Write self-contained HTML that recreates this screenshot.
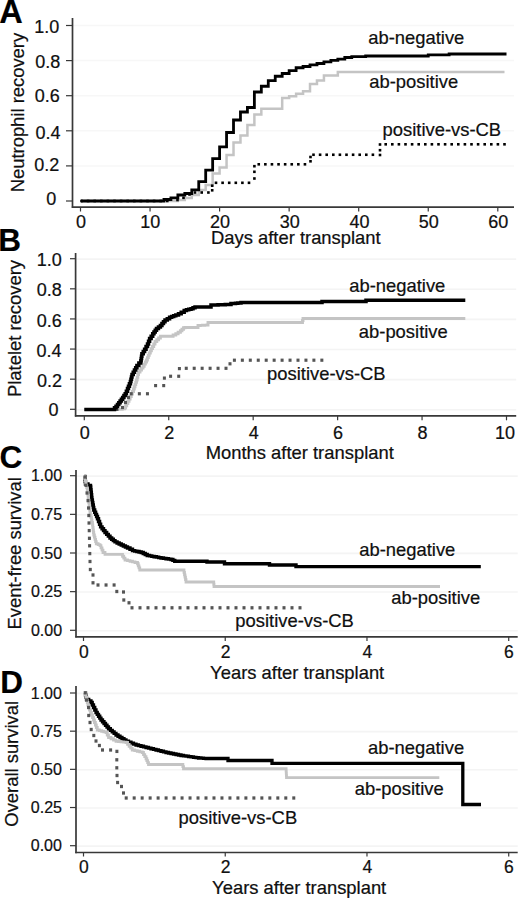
<!DOCTYPE html>
<html><head><meta charset="utf-8"><style>
html,body{margin:0;padding:0;background:#fff;overflow:hidden;}
svg{display:block;}
text{font-family:"Liberation Sans", sans-serif;stroke:#000;stroke-width:0.2px;}
</style></head><body>
<svg width="520" height="901" viewBox="0 0 520 901">
<rect width="520" height="901" fill="#fff"/>
<line x1="73.2" y1="25.5" x2="514" y2="25.5" stroke="#f7f7f7" stroke-width="1.5"/>
<line x1="73.2" y1="60.6" x2="514" y2="60.6" stroke="#f7f7f7" stroke-width="1.5"/>
<line x1="73.2" y1="95.7" x2="514" y2="95.7" stroke="#f7f7f7" stroke-width="1.5"/>
<line x1="73.2" y1="130.8" x2="514" y2="130.8" stroke="#f7f7f7" stroke-width="1.5"/>
<line x1="73.2" y1="165.9" x2="514" y2="165.9" stroke="#f7f7f7" stroke-width="1.5"/>
<line x1="72.5" y1="18" x2="72.5" y2="207.89999999999998" stroke="#383838" stroke-width="1.7"/>
<line x1="71.8" y1="207.2" x2="514" y2="207.2" stroke="#383838" stroke-width="1.7"/>
<line x1="66" y1="25.5" x2="72.5" y2="25.5" stroke="#383838" stroke-width="1.2"/>
<line x1="66" y1="60.6" x2="72.5" y2="60.6" stroke="#383838" stroke-width="1.2"/>
<line x1="66" y1="95.7" x2="72.5" y2="95.7" stroke="#383838" stroke-width="1.2"/>
<line x1="66" y1="130.8" x2="72.5" y2="130.8" stroke="#383838" stroke-width="1.2"/>
<line x1="66" y1="165.9" x2="72.5" y2="165.9" stroke="#383838" stroke-width="1.2"/>
<line x1="66" y1="201.0" x2="72.5" y2="201.0" stroke="#383838" stroke-width="1.2"/>
<line x1="80.5" y1="207.2" x2="80.5" y2="211.5" stroke="#383838" stroke-width="1.2"/>
<line x1="150.05" y1="207.2" x2="150.05" y2="211.5" stroke="#383838" stroke-width="1.2"/>
<line x1="219.6" y1="207.2" x2="219.6" y2="211.5" stroke="#383838" stroke-width="1.2"/>
<line x1="289.15" y1="207.2" x2="289.15" y2="211.5" stroke="#383838" stroke-width="1.2"/>
<line x1="358.7" y1="207.2" x2="358.7" y2="211.5" stroke="#383838" stroke-width="1.2"/>
<line x1="428.25" y1="207.2" x2="428.25" y2="211.5" stroke="#383838" stroke-width="1.2"/>
<line x1="497.79999999999995" y1="207.2" x2="497.79999999999995" y2="211.5" stroke="#383838" stroke-width="1.2"/>
<text x="34.13" y="33.00" font-size="18" fill="#111">1.0</text>
<text x="35.30" y="68.00" font-size="18" fill="#111">0.8</text>
<text x="34.80" y="102.00" font-size="18" fill="#111">0.6</text>
<text x="35.40" y="138.60" font-size="18" fill="#111">0.4</text>
<text x="34.30" y="171.00" font-size="18" fill="#111">0.2</text>
<text x="46.20" y="205.00" font-size="18" fill="#111">0</text>
<text x="76.09" y="227.80" font-size="18" fill="#111">0</text>
<text x="140.31" y="227.80" font-size="18" fill="#111">10</text>
<text x="210.09" y="227.80" font-size="18" fill="#111">20</text>
<text x="279.75" y="227.80" font-size="18" fill="#111">30</text>
<text x="349.43" y="227.80" font-size="18" fill="#111">40</text>
<text x="418.83" y="227.80" font-size="18" fill="#111">50</text>
<text x="488.28" y="227.80" font-size="18" fill="#111">60</text>
<text transform="translate(23.80,192.31) rotate(-90)" font-size="18.4" fill="#111">Neutrophil recovery</text>
<text x="210.99" y="243.90" font-size="18.4" fill="#111">Days after transplant</text>
<text x="-0.81" y="22.50" font-size="32.5" font-weight="bold" fill="#000">A</text>
<text x="368.22" y="44.00" font-size="18.4" fill="#111">ab-negative</text>
<text x="369.22" y="88.00" font-size="18.4" fill="#111">ab-positive</text>
<text x="382.56" y="136.30" font-size="18.4" fill="#111">positive-vs-CB</text>
<path d="M81.00 201.00 H177.87 V200.00 H184.82 V198.00 H191.78 V195.00 H198.74 V190.00 H205.69 V185.00 H212.65 V173.50 H219.60 V167.50 H226.56 V155.00 H233.51 V142.50 H240.47 V135.60 H247.42 V125.00 H254.38 V114.40 H261.33 V108.75 H282.19 V98.10 H289.15 V96.25 H296.11 V93.75 H303.06 V91.25 H310.01 V84.00 H316.97 V80.60 H323.93 V75.60 H337.83 V72.10 H504.50 V72.10" fill="none" stroke="#c4c4c4" stroke-width="2.5" stroke-linecap="butt" stroke-linejoin="miter"/>
<rect x="80.20" y="199.70" width="2.6" height="2.6" fill="#000"/>
<rect x="86.80" y="199.70" width="2.6" height="2.6" fill="#000"/>
<rect x="93.40" y="199.70" width="2.6" height="2.6" fill="#000"/>
<rect x="100.00" y="199.70" width="2.6" height="2.6" fill="#000"/>
<rect x="106.60" y="199.70" width="2.6" height="2.6" fill="#000"/>
<rect x="113.20" y="199.70" width="2.6" height="2.6" fill="#000"/>
<rect x="119.80" y="199.70" width="2.6" height="2.6" fill="#000"/>
<rect x="126.40" y="199.70" width="2.6" height="2.6" fill="#000"/>
<rect x="133.00" y="199.70" width="2.6" height="2.6" fill="#000"/>
<rect x="139.60" y="199.70" width="2.6" height="2.6" fill="#000"/>
<rect x="146.20" y="199.70" width="2.6" height="2.6" fill="#000"/>
<rect x="152.80" y="199.70" width="2.6" height="2.6" fill="#000"/>
<rect x="159.40" y="199.70" width="2.6" height="2.6" fill="#000"/>
<rect x="166.00" y="199.70" width="2.6" height="2.6" fill="#000"/>
<rect x="176.20" y="198.70" width="2.6" height="2.6" fill="#000"/>
<rect x="182.20" y="196.50" width="2.6" height="2.6" fill="#000"/>
<rect x="188.20" y="193.20" width="2.6" height="2.6" fill="#000"/>
<rect x="193.70" y="191.20" width="2.6" height="2.6" fill="#000"/>
<rect x="200.40" y="191.20" width="2.6" height="2.6" fill="#000"/>
<rect x="207.10" y="191.20" width="2.6" height="2.6" fill="#000"/>
<rect x="210.90" y="189.00" width="2.6" height="2.6" fill="#000"/>
<rect x="210.90" y="184.40" width="2.6" height="2.6" fill="#000"/>
<rect x="214.70" y="181.50" width="2.6" height="2.6" fill="#000"/>
<rect x="221.30" y="181.50" width="2.6" height="2.6" fill="#000"/>
<rect x="227.90" y="181.50" width="2.6" height="2.6" fill="#000"/>
<rect x="234.50" y="181.50" width="2.6" height="2.6" fill="#000"/>
<rect x="241.10" y="181.50" width="2.6" height="2.6" fill="#000"/>
<rect x="247.70" y="181.50" width="2.6" height="2.6" fill="#000"/>
<rect x="253.10" y="177.20" width="2.6" height="2.6" fill="#000"/>
<rect x="253.10" y="170.50" width="2.6" height="2.6" fill="#000"/>
<rect x="253.10" y="164.90" width="2.6" height="2.6" fill="#000"/>
<rect x="257.45" y="163.00" width="2.6" height="2.6" fill="#000"/>
<rect x="264.05" y="163.00" width="2.6" height="2.6" fill="#000"/>
<rect x="270.65" y="163.00" width="2.6" height="2.6" fill="#000"/>
<rect x="277.25" y="163.00" width="2.6" height="2.6" fill="#000"/>
<rect x="283.85" y="163.00" width="2.6" height="2.6" fill="#000"/>
<rect x="290.45" y="163.00" width="2.6" height="2.6" fill="#000"/>
<rect x="297.05" y="163.00" width="2.6" height="2.6" fill="#000"/>
<rect x="303.65" y="163.00" width="2.6" height="2.6" fill="#000"/>
<rect x="309.20" y="160.00" width="2.6" height="2.6" fill="#000"/>
<rect x="309.20" y="155.70" width="2.6" height="2.6" fill="#000"/>
<rect x="312.20" y="153.45" width="2.6" height="2.6" fill="#000"/>
<rect x="318.80" y="153.45" width="2.6" height="2.6" fill="#000"/>
<rect x="325.40" y="153.45" width="2.6" height="2.6" fill="#000"/>
<rect x="332.00" y="153.45" width="2.6" height="2.6" fill="#000"/>
<rect x="338.60" y="153.45" width="2.6" height="2.6" fill="#000"/>
<rect x="345.20" y="153.45" width="2.6" height="2.6" fill="#000"/>
<rect x="351.80" y="153.45" width="2.6" height="2.6" fill="#000"/>
<rect x="358.40" y="153.45" width="2.6" height="2.6" fill="#000"/>
<rect x="365.00" y="153.45" width="2.6" height="2.6" fill="#000"/>
<rect x="371.60" y="153.45" width="2.6" height="2.6" fill="#000"/>
<rect x="378.70" y="153.70" width="2.6" height="2.6" fill="#000"/>
<rect x="378.70" y="148.90" width="2.6" height="2.6" fill="#000"/>
<rect x="378.70" y="143.20" width="2.6" height="2.6" fill="#000"/>
<rect x="384.40" y="143.00" width="2.6" height="2.6" fill="#000"/>
<rect x="391.00" y="143.00" width="2.6" height="2.6" fill="#000"/>
<rect x="397.60" y="143.00" width="2.6" height="2.6" fill="#000"/>
<rect x="404.20" y="143.00" width="2.6" height="2.6" fill="#000"/>
<rect x="410.80" y="143.00" width="2.6" height="2.6" fill="#000"/>
<rect x="417.40" y="143.00" width="2.6" height="2.6" fill="#000"/>
<rect x="424.00" y="143.00" width="2.6" height="2.6" fill="#000"/>
<rect x="430.60" y="143.00" width="2.6" height="2.6" fill="#000"/>
<rect x="437.20" y="143.00" width="2.6" height="2.6" fill="#000"/>
<rect x="443.80" y="143.00" width="2.6" height="2.6" fill="#000"/>
<rect x="450.40" y="143.00" width="2.6" height="2.6" fill="#000"/>
<rect x="457.00" y="143.00" width="2.6" height="2.6" fill="#000"/>
<rect x="463.60" y="143.00" width="2.6" height="2.6" fill="#000"/>
<rect x="470.20" y="143.00" width="2.6" height="2.6" fill="#000"/>
<rect x="476.80" y="143.00" width="2.6" height="2.6" fill="#000"/>
<rect x="483.40" y="143.00" width="2.6" height="2.6" fill="#000"/>
<rect x="490.00" y="143.00" width="2.6" height="2.6" fill="#000"/>
<rect x="496.60" y="143.00" width="2.6" height="2.6" fill="#000"/>
<rect x="503.20" y="143.00" width="2.6" height="2.6" fill="#000"/>
<path d="M81.00 201.00 H163.96 V199.50 H170.92 V197.80 H177.87 V195.00 H184.82 V193.50 H191.78 V189.80 H198.74 V181.60 H205.69 V170.20 H212.65 V158.70 H219.60 V146.90 H226.56 V132.50 H233.51 V120.00 H240.47 V112.00 H247.42 V107.50 H254.38 V92.00 H261.33 V86.25 H268.28 V80.60 H275.24 V76.25 H282.19 V73.50 H289.15 V70.60 H296.11 V67.75 H303.06 V66.50 H310.01 V64.80 H316.97 V63.50 H323.93 V61.90 H330.88 V60.40 H337.83 V59.10 H344.79 V57.50 H351.75 V56.70 H365.66 V56.00 H428.25 V54.80 H449.12 V54.00 H506.50 V54.00" fill="none" stroke="#000" stroke-width="2.8" stroke-linecap="butt" stroke-linejoin="miter"/>
<!--B-->
<line x1="76.3" y1="259.09999999999997" x2="516.2" y2="259.09999999999997" stroke="#f4f4f4" stroke-width="1.6"/>
<line x1="76.3" y1="289.21999999999997" x2="516.2" y2="289.21999999999997" stroke="#f4f4f4" stroke-width="1.6"/>
<line x1="76.3" y1="319.34" x2="516.2" y2="319.34" stroke="#f4f4f4" stroke-width="1.6"/>
<line x1="76.3" y1="349.46" x2="516.2" y2="349.46" stroke="#f4f4f4" stroke-width="1.6"/>
<line x1="76.3" y1="379.58" x2="516.2" y2="379.58" stroke="#f4f4f4" stroke-width="1.6"/>
<line x1="76.3" y1="409.69999999999993" x2="516.2" y2="409.69999999999993" stroke="#f4f4f4" stroke-width="1.6"/>
<line x1="75.6" y1="253" x2="75.6" y2="416.59999999999997" stroke="#383838" stroke-width="1.7"/>
<line x1="74.89999999999999" y1="415.9" x2="516.2" y2="415.9" stroke="#383838" stroke-width="1.7"/>
<line x1="70" y1="258.7" x2="75.6" y2="258.7" stroke="#383838" stroke-width="1.2"/>
<line x1="70" y1="288.82" x2="75.6" y2="288.82" stroke="#383838" stroke-width="1.2"/>
<line x1="70" y1="318.94" x2="75.6" y2="318.94" stroke="#383838" stroke-width="1.2"/>
<line x1="70" y1="349.06" x2="75.6" y2="349.06" stroke="#383838" stroke-width="1.2"/>
<line x1="70" y1="379.18" x2="75.6" y2="379.18" stroke="#383838" stroke-width="1.2"/>
<line x1="70" y1="409.29999999999995" x2="75.6" y2="409.29999999999995" stroke="#383838" stroke-width="1.2"/>
<line x1="84.3" y1="415.9" x2="84.3" y2="420.3" stroke="#383838" stroke-width="1.2"/>
<line x1="168.74" y1="415.9" x2="168.74" y2="420.3" stroke="#383838" stroke-width="1.2"/>
<line x1="253.18" y1="415.9" x2="253.18" y2="420.3" stroke="#383838" stroke-width="1.2"/>
<line x1="337.62" y1="415.9" x2="337.62" y2="420.3" stroke="#383838" stroke-width="1.2"/>
<line x1="422.06" y1="415.9" x2="422.06" y2="420.3" stroke="#383838" stroke-width="1.2"/>
<line x1="506.5" y1="415.9" x2="506.5" y2="420.3" stroke="#383838" stroke-width="1.2"/>
<text x="36.78" y="266.30" font-size="18" fill="#111">1.0</text>
<text x="36.86" y="296.42" font-size="18" fill="#111">0.8</text>
<text x="36.87" y="326.54" font-size="18" fill="#111">0.6</text>
<text x="36.60" y="356.66" font-size="18" fill="#111">0.4</text>
<text x="36.98" y="386.78" font-size="18" fill="#111">0.2</text>
<text x="48.59" y="415.60" font-size="18" fill="#111">0</text>
<text x="79.79" y="439.00" font-size="18" fill="#111">0</text>
<text x="164.23" y="439.00" font-size="18" fill="#111">2</text>
<text x="248.73" y="439.00" font-size="18" fill="#111">4</text>
<text x="333.05" y="439.00" font-size="18" fill="#111">6</text>
<text x="417.55" y="439.00" font-size="18" fill="#111">8</text>
<text x="494.96" y="439.00" font-size="18" fill="#111">10</text>
<text transform="translate(21.20,397.01) rotate(-90)" font-size="18.4" fill="#111">Platelet recovery</text>
<text x="205.69" y="458.50" font-size="18.4" fill="#111">Months after transplant</text>
<text x="-1.81" y="251.20" font-size="31.5" font-weight="bold" fill="#000">B</text>
<text x="349.22" y="291.50" font-size="18.4" fill="#111">ab-negative</text>
<text x="358.82" y="338.00" font-size="18.4" fill="#111">ab-positive</text>
<text x="267.06" y="379.60" font-size="18.4" fill="#111">positive-vs-CB</text>
<path d="M84.30 409.40 H120.00 V409.40 H122.25 V408.70 H124.50 V408.00 H125.62 V405.75 H126.75 V403.50 H127.88 V401.25 H129.00 V399.00 H130.12 V396.50 H131.25 V394.00 H132.38 V391.50 H133.50 V389.00 H134.25 V386.75 H135.00 V384.50 H135.75 V382.25 H136.50 V380.00 H137.17 V377.33 H137.83 V374.67 H138.50 V372.00 H140.00 V370.07 H141.50 V368.13 H143.00 V366.20 H144.17 V364.13 H145.33 V362.07 H146.50 V360.00 H147.40 V357.67 H148.30 V355.33 H149.20 V353.00 H150.30 V350.83 H151.40 V348.67 H152.50 V346.50 H153.75 V344.00 H155.00 V341.50 H156.80 V339.73 H158.60 V337.97 H160.40 V336.20 H170.40 V336.20 H173.10 V335.00 H175.80 V333.80 H178.10 V332.30 H180.40 V330.80 H181.95 V329.25 H183.50 V327.70 H185.00 V327.50 H197.00 V327.50 H198.00 V325.50 H200.25 V325.38 H202.50 V325.25 H204.75 V325.12 H207.00 V325.00 H208.00 V322.50 H302.00 V322.50 H302.50 V320.50 H303.00 V318.50 H465.30 V318.50" fill="none" stroke="#c4c4c4" stroke-width="2.9" stroke-linecap="butt" stroke-linejoin="miter"/>
<rect x="115.50" y="407.80" width="3" height="3.2" fill="#555"/>
<rect x="121.00" y="405.90" width="3" height="3.2" fill="#555"/>
<rect x="124.00" y="400.90" width="3" height="3.2" fill="#555"/>
<rect x="127.00" y="395.90" width="3" height="3.2" fill="#555"/>
<rect x="129.75" y="392.15" width="3" height="3.2" fill="#555"/>
<rect x="137.85" y="392.15" width="3" height="3.2" fill="#555"/>
<rect x="145.95" y="392.15" width="3" height="3.2" fill="#555"/>
<rect x="154.10" y="384.00" width="3" height="3.2" fill="#555"/>
<rect x="162.20" y="384.00" width="3" height="3.2" fill="#555"/>
<rect x="162.90" y="376.50" width="3" height="3.2" fill="#555"/>
<rect x="169.10" y="374.65" width="3" height="3.2" fill="#555"/>
<rect x="177.20" y="374.65" width="3" height="3.2" fill="#555"/>
<rect x="177.90" y="367.00" width="3" height="3.2" fill="#555"/>
<rect x="184.75" y="366.70" width="3" height="3.2" fill="#555"/>
<rect x="192.70" y="366.70" width="3" height="3.2" fill="#555"/>
<rect x="200.65" y="366.70" width="3" height="3.2" fill="#555"/>
<rect x="208.60" y="366.70" width="3" height="3.2" fill="#555"/>
<rect x="216.55" y="366.70" width="3" height="3.2" fill="#555"/>
<rect x="224.50" y="366.70" width="3" height="3.2" fill="#555"/>
<rect x="228.50" y="362.20" width="3" height="3.2" fill="#555"/>
<rect x="232.90" y="358.60" width="3" height="3.2" fill="#555"/>
<rect x="240.85" y="358.60" width="3" height="3.2" fill="#555"/>
<rect x="248.80" y="358.60" width="3" height="3.2" fill="#555"/>
<rect x="256.75" y="358.60" width="3" height="3.2" fill="#555"/>
<rect x="264.70" y="358.60" width="3" height="3.2" fill="#555"/>
<rect x="272.65" y="358.60" width="3" height="3.2" fill="#555"/>
<rect x="280.60" y="358.60" width="3" height="3.2" fill="#555"/>
<rect x="288.55" y="358.60" width="3" height="3.2" fill="#555"/>
<rect x="296.50" y="358.60" width="3" height="3.2" fill="#555"/>
<rect x="304.45" y="358.60" width="3" height="3.2" fill="#555"/>
<rect x="312.40" y="358.60" width="3" height="3.2" fill="#555"/>
<rect x="320.35" y="358.60" width="3" height="3.2" fill="#555"/>
<path d="M84.30 409.40 H113.00 V409.40 H114.50 V407.80 H116.00 V406.20 H117.50 V404.60 H118.80 V402.80 H120.10 V401.00 H121.40 V399.20 H122.67 V397.40 H123.93 V395.60 H125.20 V393.80 H126.35 V391.15 H127.50 V388.50 H128.47 V386.17 H129.43 V383.83 H130.40 V381.50 H130.93 V379.20 H131.47 V376.90 H132.00 V374.60 H133.22 V372.30 H134.45 V370.00 H135.68 V367.70 H136.90 V365.40 H138.85 V363.10 H140.80 V360.80 H141.17 V358.47 H141.53 V356.13 H141.90 V353.80 H143.25 V351.50 H144.60 V349.20 H146.05 V346.60 H147.50 V344.00 H148.55 V341.25 H149.60 V338.50 H151.15 V336.15 H152.70 V333.80 H153.97 V332.03 H155.23 V330.27 H156.50 V328.50 H158.45 V326.95 H160.40 V325.40 H161.93 V323.60 H163.47 V321.80 H165.00 V320.00 H167.30 V318.65 H169.60 V317.30 H171.67 V316.53 H173.73 V315.77 H175.80 V315.00 H178.50 V313.65 H181.20 V312.30 H184.20 V310.40 H186.47 V309.85 H188.73 V309.30 H191.00 V308.75 H193.00 V307.82 H195.00 V306.90 H210.00 V306.90 H211.00 V305.00 H213.38 V304.94 H215.75 V304.88 H218.12 V304.81 H220.50 V304.75 H222.88 V304.69 H225.25 V304.62 H227.62 V304.56 H230.00 V304.50 H231.00 V303.50 H233.25 V303.38 H235.50 V303.25 H237.75 V303.12 H240.00 V303.00 H241.00 V302.50 H321.00 V302.50 H322.00 V301.40 H365.00 V301.40 H366.00 V300.20 H465.30 V300.20" fill="none" stroke="#000" stroke-width="3.5" stroke-linecap="butt" stroke-linejoin="miter"/>
<!--C-->
<line x1="76.7" y1="476.09999999999997" x2="517.7" y2="476.09999999999997" stroke="#f4f4f4" stroke-width="1.6"/>
<line x1="76.7" y1="514.75" x2="517.7" y2="514.75" stroke="#f4f4f4" stroke-width="1.6"/>
<line x1="76.7" y1="553.4" x2="517.7" y2="553.4" stroke="#f4f4f4" stroke-width="1.6"/>
<line x1="76.7" y1="592.05" x2="517.7" y2="592.05" stroke="#f4f4f4" stroke-width="1.6"/>
<line x1="76.7" y1="630.6999999999999" x2="517.7" y2="630.6999999999999" stroke="#f4f4f4" stroke-width="1.6"/>
<line x1="76" y1="470" x2="76" y2="637.5" stroke="#383838" stroke-width="1.7"/>
<line x1="75.3" y1="636.8" x2="517.7" y2="636.8" stroke="#383838" stroke-width="1.7"/>
<line x1="70" y1="475.7" x2="76" y2="475.7" stroke="#383838" stroke-width="1.2"/>
<line x1="70" y1="514.35" x2="76" y2="514.35" stroke="#383838" stroke-width="1.2"/>
<line x1="70" y1="553.0" x2="76" y2="553.0" stroke="#383838" stroke-width="1.2"/>
<line x1="70" y1="591.65" x2="76" y2="591.65" stroke="#383838" stroke-width="1.2"/>
<line x1="70" y1="630.3" x2="76" y2="630.3" stroke="#383838" stroke-width="1.2"/>
<line x1="83.5" y1="636.8" x2="83.5" y2="641" stroke="#383838" stroke-width="1.2"/>
<line x1="225.24" y1="636.8" x2="225.24" y2="641" stroke="#383838" stroke-width="1.2"/>
<line x1="366.98" y1="636.8" x2="366.98" y2="641" stroke="#383838" stroke-width="1.2"/>
<line x1="508.72" y1="636.8" x2="508.72" y2="641" stroke="#383838" stroke-width="1.2"/>
<text x="30.98" y="481.20" font-size="16" fill="#111">1.00</text>
<text x="31.03" y="519.85" font-size="16" fill="#111">0.75</text>
<text x="30.98" y="558.50" font-size="16" fill="#111">0.50</text>
<text x="31.03" y="597.15" font-size="16" fill="#111">0.25</text>
<text x="30.98" y="635.80" font-size="16" fill="#111">0.00</text>
<text x="78.93" y="657.50" font-size="17.5" fill="#111">0</text>
<text x="220.67" y="657.50" font-size="17.5" fill="#111">2</text>
<text x="362.47" y="657.50" font-size="17.5" fill="#111">4</text>
<text x="504.09" y="657.50" font-size="17.5" fill="#111">6</text>
<text transform="translate(20.80,629.51) rotate(-90)" font-size="18.4" fill="#111">Event-free survival</text>
<text x="210.10" y="678.50" font-size="18.4" fill="#111">Years after transplant</text>
<text x="-0.49" y="468.00" font-size="31.5" font-weight="bold" fill="#000">C</text>
<text x="359.22" y="555.50" font-size="18.4" fill="#111">ab-negative</text>
<text x="391.22" y="604.00" font-size="18.4" fill="#111">ab-positive</text>
<text x="235.31" y="627.00" font-size="18.4" fill="#111">positive-vs-CB</text>
<path d="M84.50 476.50 H84.83 V479.00 H85.17 V481.50 H85.50 V484.00 H88.00 V485.50 H90.50 V487.00 H90.78 V489.60 H91.06 V492.20 H91.34 V494.80 H91.62 V497.40 H91.90 V500.00 H92.36 V502.50 H92.83 V505.00 H93.29 V507.50 H93.75 V510.00 H94.69 V512.19 H95.62 V514.38 H96.56 V516.56 H97.50 V518.75 H98.53 V521.47 H99.57 V524.18 H100.60 V526.90 H102.07 V528.77 H103.53 V530.63 H105.00 V532.50 H106.67 V534.33 H108.33 V536.17 H110.00 V538.00 H111.67 V539.30 H113.33 V540.60 H115.00 V541.90 H117.08 V542.93 H119.17 V543.97 H121.25 V545.00 H123.33 V546.00 H125.42 V547.00 H127.50 V548.00 H130.00 V549.30 H132.50 V550.60 H134.69 V551.08 H136.88 V551.55 H139.06 V552.02 H141.25 V552.50 H143.25 V553.50 H145.25 V554.50 H147.25 V555.50 H149.54 V555.92 H151.83 V556.33 H154.12 V556.75 H156.42 V557.17 H158.71 V557.58 H161.00 V558.00 H163.50 V558.38 H166.00 V558.75 H168.50 V559.12 H171.00 V559.50 H172.88 V560.38 H174.75 V561.25 H206.00 V561.25 H207.00 V562.00 H223.75 V562.00 H224.50 V563.75 H268.75 V563.75 H269.50 V565.00 H295.00 V565.00 H296.00 V566.60 H480.80 V566.60" fill="none" stroke="#000" stroke-width="3.4" stroke-linecap="butt" stroke-linejoin="miter"/>
<path d="M84.00 476.00 H84.54 V478.33 H85.08 V480.67 H85.62 V483.00 H86.17 V485.33 H86.71 V487.67 H87.25 V490.00 H87.56 V492.50 H87.86 V495.00 H88.17 V497.50 H88.47 V500.00 H88.78 V502.50 H89.08 V505.00 H89.39 V507.50 H89.69 V510.00 H90.00 V512.50 H90.50 V515.00 H91.00 V517.50 H91.50 V520.00 H92.00 V522.50 H92.50 V525.00 H92.81 V527.50 H93.12 V530.00 H93.44 V532.50 H93.75 V535.00 H94.38 V537.19 H95.00 V539.38 H95.62 V541.56 H96.25 V543.75 H98.12 V544.67 H100.00 V545.60 H101.00 V547.90 H102.00 V550.20 H103.00 V552.50 H105.00 V554.40 H121.25 V554.40 H122.50 V556.27 H123.75 V558.13 H125.00 V560.00 H127.50 V560.62 H130.00 V561.25 H132.50 V561.88 H135.00 V562.50 H137.50 V563.75 H138.25 V565.83 H139.00 V567.92 H139.75 V570.00 H183.50 V570.00 H184.00 V572.40 H184.50 V574.80 H185.00 V577.20 H185.50 V579.60 H186.00 V582.00 H213.50 V582.00 H213.75 V584.25 H214.00 V586.50 H440.00 V586.50" fill="none" stroke="#c4c4c4" stroke-width="2.8" stroke-linecap="butt" stroke-linejoin="miter"/>
<rect x="83.50" y="475.35" width="3" height="3.3" fill="#555"/>
<rect x="84.50" y="483.65" width="3" height="3.3" fill="#555"/>
<rect x="85.50" y="491.35" width="3" height="3.3" fill="#555"/>
<rect x="86.50" y="498.95" width="3" height="3.3" fill="#555"/>
<rect x="87.00" y="506.35" width="3" height="3.3" fill="#555"/>
<rect x="87.30" y="513.85" width="3" height="3.3" fill="#555"/>
<rect x="87.50" y="521.35" width="3" height="3.3" fill="#555"/>
<rect x="87.70" y="528.95" width="3" height="3.3" fill="#555"/>
<rect x="87.90" y="536.65" width="3" height="3.3" fill="#555"/>
<rect x="88.10" y="544.15" width="3" height="3.3" fill="#555"/>
<rect x="88.30" y="551.95" width="3" height="3.3" fill="#555"/>
<rect x="88.50" y="559.85" width="3" height="3.3" fill="#555"/>
<rect x="88.80" y="567.85" width="3" height="3.3" fill="#555"/>
<rect x="91.50" y="573.35" width="3" height="3.3" fill="#555"/>
<rect x="91.50" y="581.15" width="3" height="3.3" fill="#555"/>
<rect x="96.50" y="583.35" width="3" height="3.3" fill="#555"/>
<rect x="104.55" y="583.35" width="3" height="3.3" fill="#555"/>
<rect x="112.60" y="583.35" width="3" height="3.3" fill="#555"/>
<rect x="115.30" y="589.85" width="3" height="3.3" fill="#555"/>
<rect x="122.00" y="590.35" width="3" height="3.3" fill="#555"/>
<rect x="122.30" y="598.35" width="3" height="3.3" fill="#555"/>
<rect x="127.50" y="601.15" width="3" height="3.3" fill="#555"/>
<rect x="130.50" y="606.15" width="3" height="3.3" fill="#555"/>
<rect x="138.50" y="606.15" width="3" height="3.3" fill="#555"/>
<rect x="146.50" y="606.15" width="3" height="3.3" fill="#555"/>
<rect x="154.50" y="606.15" width="3" height="3.3" fill="#555"/>
<rect x="162.50" y="606.15" width="3" height="3.3" fill="#555"/>
<rect x="170.50" y="606.15" width="3" height="3.3" fill="#555"/>
<rect x="178.50" y="606.15" width="3" height="3.3" fill="#555"/>
<rect x="186.50" y="606.15" width="3" height="3.3" fill="#555"/>
<rect x="194.50" y="606.15" width="3" height="3.3" fill="#555"/>
<rect x="202.50" y="606.15" width="3" height="3.3" fill="#555"/>
<rect x="210.50" y="606.15" width="3" height="3.3" fill="#555"/>
<rect x="218.50" y="606.15" width="3" height="3.3" fill="#555"/>
<rect x="226.50" y="606.15" width="3" height="3.3" fill="#555"/>
<rect x="234.50" y="606.15" width="3" height="3.3" fill="#555"/>
<rect x="242.50" y="606.15" width="3" height="3.3" fill="#555"/>
<rect x="250.50" y="606.15" width="3" height="3.3" fill="#555"/>
<rect x="258.50" y="606.15" width="3" height="3.3" fill="#555"/>
<rect x="266.50" y="606.15" width="3" height="3.3" fill="#555"/>
<rect x="274.50" y="606.15" width="3" height="3.3" fill="#555"/>
<rect x="282.50" y="606.15" width="3" height="3.3" fill="#555"/>
<rect x="290.50" y="606.15" width="3" height="3.3" fill="#555"/>
<rect x="298.50" y="606.15" width="3" height="3.3" fill="#555"/>
<!--D-->
<line x1="76.7" y1="693.4" x2="517.7" y2="693.4" stroke="#f4f4f4" stroke-width="1.6"/>
<line x1="76.7" y1="731.5749999999999" x2="517.7" y2="731.5749999999999" stroke="#f4f4f4" stroke-width="1.6"/>
<line x1="76.7" y1="769.75" x2="517.7" y2="769.75" stroke="#f4f4f4" stroke-width="1.6"/>
<line x1="76.7" y1="807.925" x2="517.7" y2="807.925" stroke="#f4f4f4" stroke-width="1.6"/>
<line x1="76.7" y1="846.1" x2="517.7" y2="846.1" stroke="#f4f4f4" stroke-width="1.6"/>
<line x1="76" y1="686" x2="76" y2="853.2" stroke="#383838" stroke-width="1.7"/>
<line x1="75.3" y1="852.5" x2="517.7" y2="852.5" stroke="#383838" stroke-width="1.7"/>
<line x1="70" y1="693.0" x2="76" y2="693.0" stroke="#383838" stroke-width="1.2"/>
<line x1="70" y1="731.175" x2="76" y2="731.175" stroke="#383838" stroke-width="1.2"/>
<line x1="70" y1="769.35" x2="76" y2="769.35" stroke="#383838" stroke-width="1.2"/>
<line x1="70" y1="807.525" x2="76" y2="807.525" stroke="#383838" stroke-width="1.2"/>
<line x1="70" y1="845.7" x2="76" y2="845.7" stroke="#383838" stroke-width="1.2"/>
<line x1="83.5" y1="852.5" x2="83.5" y2="856.5" stroke="#383838" stroke-width="1.2"/>
<line x1="225.24" y1="852.5" x2="225.24" y2="856.5" stroke="#383838" stroke-width="1.2"/>
<line x1="366.98" y1="852.5" x2="366.98" y2="856.5" stroke="#383838" stroke-width="1.2"/>
<line x1="508.72" y1="852.5" x2="508.72" y2="856.5" stroke="#383838" stroke-width="1.2"/>
<text x="30.78" y="698.50" font-size="16" fill="#111">1.00</text>
<text x="30.83" y="736.67" font-size="16" fill="#111">0.75</text>
<text x="30.78" y="774.85" font-size="16" fill="#111">0.50</text>
<text x="30.83" y="813.02" font-size="16" fill="#111">0.25</text>
<text x="30.78" y="851.20" font-size="16" fill="#111">0.00</text>
<text x="78.93" y="873.00" font-size="17.5" fill="#111">0</text>
<text x="220.67" y="873.00" font-size="17.5" fill="#111">2</text>
<text x="362.47" y="873.00" font-size="17.5" fill="#111">4</text>
<text x="504.09" y="873.00" font-size="17.5" fill="#111">6</text>
<text transform="translate(18.30,826.67) rotate(-90)" font-size="18.4" fill="#111">Overall survival</text>
<text x="212.10" y="893.50" font-size="18.4" fill="#111">Years after transplant</text>
<text x="0.19" y="692.60" font-size="31.5" font-weight="bold" fill="#000">D</text>
<text x="368.02" y="754.00" font-size="18.4" fill="#111">ab-negative</text>
<text x="354.72" y="795.00" font-size="18.4" fill="#111">ab-positive</text>
<text x="178.61" y="824.00" font-size="18.4" fill="#111">positive-vs-CB</text>
<path d="M85.00 693.00 H85.50 V695.17 H86.00 V697.33 H86.50 V699.50 H88.75 V701.00 H91.00 V702.50 H92.25 V705.00 H93.50 V707.50 H94.75 V710.00 H96.00 V712.50 H97.25 V714.38 H98.50 V716.25 H99.75 V718.12 H101.00 V720.00 H102.50 V721.75 H104.00 V723.50 H105.50 V725.25 H107.00 V727.00 H108.50 V728.75 H110.38 V730.31 H112.25 V731.88 H114.12 V733.44 H116.00 V735.00 H118.00 V736.25 H120.00 V737.50 H122.00 V738.75 H124.00 V740.00 H126.00 V741.25 H128.50 V742.19 H131.00 V743.12 H133.50 V744.06 H136.00 V745.00 H138.50 V745.62 H141.00 V746.25 H143.50 V746.88 H146.00 V747.50 H148.50 V748.12 H151.00 V748.75 H153.50 V749.38 H156.00 V750.00 H158.50 V750.62 H161.00 V751.25 H163.50 V751.88 H166.00 V752.50 H168.50 V753.00 H171.00 V753.50 H173.50 V754.00 H176.00 V754.50 H178.50 V755.00 H181.00 V755.50 H183.50 V755.86 H186.00 V756.21 H188.50 V756.57 H191.00 V756.93 H193.50 V757.29 H196.00 V757.64 H198.50 V758.00 H201.00 V758.17 H203.50 V758.33 H206.00 V758.50 H227.00 V758.50 H228.00 V760.50 H271.00 V760.50 H272.00 V763.30 H462.80 V763.30 H462.80 V804.50 H481.00 V804.50" fill="none" stroke="#000" stroke-width="3.3" stroke-linecap="butt" stroke-linejoin="miter"/>
<path d="M84.75 692.50 H85.38 V695.00 H86.00 V697.50 H86.62 V700.00 H87.25 V702.50 H87.88 V705.00 H88.50 V707.50 H89.50 V710.00 H90.50 V712.50 H91.50 V715.00 H92.50 V717.50 H93.50 V720.00 H94.44 V722.50 H95.38 V725.00 H96.31 V727.50 H97.25 V730.00 H99.44 V730.62 H101.62 V731.25 H103.81 V731.88 H106.00 V732.50 H107.25 V735.00 H108.50 V737.50 H111.00 V738.75 H113.50 V740.00 H116.00 V741.25 H118.50 V741.56 H121.00 V741.88 H123.50 V742.19 H126.00 V742.50 H127.56 V744.38 H129.12 V746.25 H130.69 V748.12 H132.25 V750.00 H134.75 V750.62 H137.25 V751.25 H139.75 V751.88 H142.25 V752.50 H143.50 V754.58 H144.75 V756.67 H146.00 V758.75 H146.83 V760.67 H147.67 V762.58 H148.50 V764.50 H182.25 V764.50 H182.88 V766.62 H183.50 V768.75 H286.00 V768.75 H286.12 V770.96 H286.25 V773.17 H286.38 V775.39 H286.50 V777.60 H439.30 V777.60" fill="none" stroke="#c4c4c4" stroke-width="2.8" stroke-linecap="butt" stroke-linejoin="miter"/>
<rect x="83.70" y="691.15" width="3" height="3.3" fill="#555"/>
<rect x="85.00" y="698.35" width="3" height="3.3" fill="#555"/>
<rect x="87.00" y="705.85" width="3" height="3.3" fill="#555"/>
<rect x="87.20" y="713.85" width="3" height="3.3" fill="#555"/>
<rect x="88.50" y="720.85" width="3" height="3.3" fill="#555"/>
<rect x="89.70" y="727.85" width="3" height="3.3" fill="#555"/>
<rect x="92.30" y="733.85" width="3" height="3.3" fill="#555"/>
<rect x="94.50" y="739.35" width="3" height="3.3" fill="#555"/>
<rect x="97.90" y="743.85" width="3" height="3.3" fill="#555"/>
<rect x="101.00" y="748.35" width="3" height="3.3" fill="#555"/>
<rect x="109.10" y="748.35" width="3" height="3.3" fill="#555"/>
<rect x="115.40" y="749.75" width="3" height="3.3" fill="#555"/>
<rect x="115.30" y="758.15" width="3" height="3.3" fill="#555"/>
<rect x="115.30" y="766.15" width="3" height="3.3" fill="#555"/>
<rect x="115.50" y="773.85" width="3" height="3.3" fill="#555"/>
<rect x="116.10" y="780.85" width="3" height="3.3" fill="#555"/>
<rect x="120.00" y="784.85" width="3" height="3.3" fill="#555"/>
<rect x="122.00" y="791.35" width="3" height="3.3" fill="#555"/>
<rect x="124.70" y="796.35" width="3" height="3.3" fill="#555"/>
<rect x="132.68" y="796.35" width="3" height="3.3" fill="#555"/>
<rect x="140.66" y="796.35" width="3" height="3.3" fill="#555"/>
<rect x="148.64" y="796.35" width="3" height="3.3" fill="#555"/>
<rect x="156.62" y="796.35" width="3" height="3.3" fill="#555"/>
<rect x="164.60" y="796.35" width="3" height="3.3" fill="#555"/>
<rect x="172.58" y="796.35" width="3" height="3.3" fill="#555"/>
<rect x="180.56" y="796.35" width="3" height="3.3" fill="#555"/>
<rect x="188.54" y="796.35" width="3" height="3.3" fill="#555"/>
<rect x="196.52" y="796.35" width="3" height="3.3" fill="#555"/>
<rect x="204.50" y="796.35" width="3" height="3.3" fill="#555"/>
<rect x="212.48" y="796.35" width="3" height="3.3" fill="#555"/>
<rect x="220.46" y="796.35" width="3" height="3.3" fill="#555"/>
<rect x="228.44" y="796.35" width="3" height="3.3" fill="#555"/>
<rect x="236.42" y="796.35" width="3" height="3.3" fill="#555"/>
<rect x="244.40" y="796.35" width="3" height="3.3" fill="#555"/>
<rect x="252.38" y="796.35" width="3" height="3.3" fill="#555"/>
<rect x="260.36" y="796.35" width="3" height="3.3" fill="#555"/>
<rect x="268.34" y="796.35" width="3" height="3.3" fill="#555"/>
<rect x="276.32" y="796.35" width="3" height="3.3" fill="#555"/>
<rect x="284.30" y="796.35" width="3" height="3.3" fill="#555"/>
<rect x="292.28" y="796.35" width="3" height="3.3" fill="#555"/>
</svg>
</body></html>
